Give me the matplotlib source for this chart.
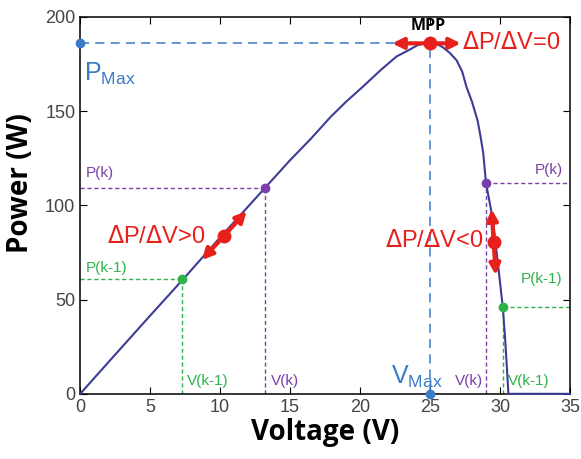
import matplotlib.pyplot as plt

# P-V curve
voltage = [0, 2.5, 5, 7.5, 10, 12.5, 15, 16.5, 17.9, 19, 20.2, 21.5, 22.6, 23.5, 24.1,
           24.5, 25, 25.5, 25.9, 26.4, 26.9, 27.3, 27.6, 28, 28.4, 28.6, 28.8,
           29.0, 29.5, 29.9, 30.2, 30.36, 30.5, 30.6, 35]
power = [0, 20.8, 41.5, 62, 83, 103.5, 124, 135.5, 147, 155, 163, 172, 179, 182.5, 185,
         185.8, 186, 185.6, 184, 181, 177, 171, 163, 155, 145, 137, 128,
         112, 92, 66, 46, 30, 13, 0, 0]

v_max, p_max = 25, 186
left_pts_v = [7.3, 13.2]      # V(k-1), V(k) on the rising side
left_pts_p = [61, 109.5]
right_pts_v = [30.2, 29.0]    # V(k-1), V(k) on the falling side
right_pts_p = [46, 112]

curve_c = '#3c3c96'
blue = '#3a7bc8'
purple = '#7a3fa8'
green = '#2eb24a'
red = '#e8201c'

plt.rcParams['font.family'] = ['Liberation Sans', 'DejaVu Sans']

fig = plt.figure(figsize=(5.81, 4.59), dpi=100)
ax = fig.add_axes([0.138, 0.142, 0.843, 0.821])

ax.plot(voltage, power, color=curve_c, lw=1.5, zorder=4, clip_on=False)

# MPP guides
ax.plot([0, v_max], [p_max, p_max], color=blue, ls=(0, (6, 4)), lw=1.1)
ax.plot([v_max, v_max], [0, p_max], color=blue, ls=(0, (6, 4)), lw=1.1)
ax.plot([0, v_max], [p_max, 0], 'o', color=blue, ms=6, clip_on=False, zorder=5)

# k / k-1 guides
cols = [green, purple]
for v, p, c in zip(left_pts_v, left_pts_p, cols):
    ax.plot([0, v], [p, p], color=c, ls=(0, (3, 2)), lw=1)
    ax.plot([v, v], [0, p], color=c, ls=(0, (3, 2)), lw=1)
    ax.plot(v, p, 'o', color=c, ms=6, zorder=5)
for v, p, c in zip(right_pts_v, right_pts_p, cols):
    ax.plot([v, 35], [p, p], color=c, ls=(0, (3, 2)), lw=1)
    ax.plot([v, v], [0, p], color=c, ls=(0, (3, 2)), lw=1)
    ax.plot(v, p, 'o', color=c, ms=6, zorder=5)

# red arrows
arr = dict(arrowstyle='<|-|>', color=red, lw=3, mutation_scale=16, shrinkA=0, shrinkB=0)
ax.annotate('', xy=(22.3, p_max), xytext=(27.2, p_max), arrowprops=arr, zorder=6)
ax.plot(v_max, p_max, 'o', color=red, ms=9, zorder=7)
ax.annotate('', xy=(8.7, 71), xytext=(11.9, 97), arrowprops=arr, zorder=6)
ax.plot(10.3, 84, 'o', color=red, ms=9, zorder=7)
ax.annotate('', xy=(29.4, 98), xytext=(29.7, 63), arrowprops=arr, zorder=6)
ax.plot(29.55, 80.5, 'o', color=red, ms=9, zorder=7)

# labels
ax.text(0.3, 170, r'P$_{\mathregular{Max}}$', color=blue, fontsize=18, va='center')
ax.text(22.2, 9, r'V$_{\mathregular{Max}}$', color=blue, fontsize=18, va='center')
ax.text(24.9, 195, 'MPP', fontsize=11.5, fontweight='bold', ha='center', va='center',
        family='Open Sans')
ax.text(27.3, 186, r'$\Delta$P/$\Delta$V=0', color=red, fontsize=17, va='center')
ax.text(1.9, 83, r'$\Delta$P/$\Delta$V>0', color=red, fontsize=17, va='center')
ax.text(21.8, 81, r'$\Delta$P/$\Delta$V<0', color=red, fontsize=17, va='center')
ax.text(0.4, 117, 'P(k)', color=purple, fontsize=11, va='center')
ax.text(0.4, 67, 'P(k-1)', color=green, fontsize=11, va='center')
ax.text(7.6, 7, 'V(k-1)', color=green, fontsize=11, va='center')
ax.text(13.6, 7, 'V(k)', color=purple, fontsize=11, va='center')
ax.text(32.5, 119, 'P(k)', color=purple, fontsize=11, va='center')
ax.text(31.5, 61, 'P(k-1)', color=green, fontsize=11, va='center')
ax.text(26.8, 7, 'V(k)', color=purple, fontsize=11, va='center')
ax.text(30.6, 7, 'V(k-1)', color=green, fontsize=11, va='center')

ax.set_xlim(0, 35)
ax.set_ylim(0, 200)
ax.set_xticks(range(0, 36, 5))
ax.set_yticks(range(0, 201, 50))
ax.tick_params(direction='in', top=True, right=True, labelsize=13,
               labelcolor='#444444', length=5)
for s in ax.spines.values():
    s.set_linewidth(1.1)
ax.set_xlabel('Voltage (V)', fontsize=20, fontweight='bold', family='Open Sans',
              labelpad=2)
ax.set_ylabel('Power (W)', fontsize=20, fontweight='bold', family='Open Sans')
ax.yaxis.set_label_coords(-0.092, 0.56)

fig.savefig('out.png', dpi=100)
